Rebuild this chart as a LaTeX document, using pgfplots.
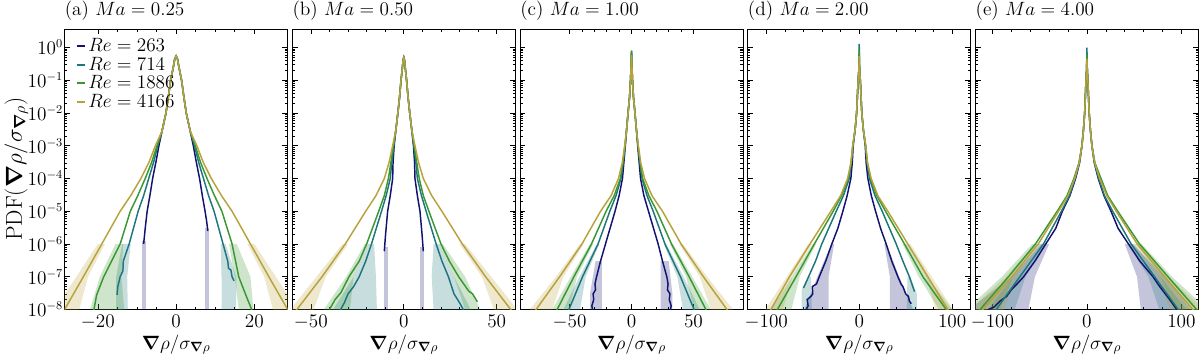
\documentclass[border=0pt]{standalone}
\usepackage{bm}
\usepackage{pgfplots}
\pgfplotsset{compat=1.18}
\usepgfplotslibrary{groupplots}

\definecolor{reA}{RGB}{18,18,112}
\definecolor{reB}{RGB}{30,118,124}
\definecolor{reC}{RGB}{58,152,50}
\definecolor{reD}{RGB}{184,162,60}

\pgfplotsset{
  pdfax/.style={
    scale only axis, width=167pt, height=210pt,
    ymode=log, ymin=1e-8, ymax=3.7,
    ytick={1e-8,1e-7,1e-6,1e-5,1e-4,1e-3,1e-2,1e-1,1},
    tick align=inside, major tick length=4pt, minor tick length=2pt,
    axis line style={line width=0.7pt},
    tick style={line width=0.5pt, black},
    tick label style={font=\fontsize{13.5}{15}\selectfont},
    xticklabel style={yshift=-1pt},
    yticklabel style={inner xsep=1pt},
    label style={font=\fontsize{14.5}{16}\selectfont},
    title style={at={(0,1)}, anchor=south west, inner sep=1pt, xshift=-1pt, yshift=-1pt,
                 font=\fontsize{14.5}{16}\selectfont},
    xlabel={$\bm{\nabla}\rho/\sigma_{\bm{\nabla}\rho}$},
    xlabel style={yshift=3pt},
  },
  band/.style={draw=none, fill=#1, fill opacity=0.25, forget plot},
  pdf/.style={draw=#1, line width=1.1pt, no markers},
}

\begin{document}
\begin{tikzpicture}
\begin{groupplot}[
  group style={group size=5 by 1, horizontal sep=3.5pt,
               yticklabels at=edge left, ylabels at=edge left},
  pdfax,
]

% ---------------- (a) Ma = 0.25
\nextgroupplot[title={(a) $Ma = 0.25$}, xmin=-28.5, xmax=28.5,
  xtick={-20,0,20}, minor x tick num=3,
  ylabel={$\mathrm{PDF}(\bm{\nabla}\rho/\sigma_{\bm{\nabla}\rho})$},
  ylabel style={font=\fontsize{18}{20}\selectfont, yshift=-5pt},
  legend style={at={(0.03,0.985)}, anchor=north west, draw=none, fill=none,
    font=\fontsize{14}{16}\selectfont, row sep=-1.5pt},
  legend cell align=left,
  legend image code/.code={\draw[#1, line width=1.6pt] (0pt,0pt) -- (6pt,0pt);}]
\addplot[band=reA] coordinates {(-8.6,1.2e-6)(-7.6,1.2e-6)(-7.6,1e-9)(-8.6,1e-9)};
\addplot[band=reA] coordinates {(7.5,3e-6)(8.5,3e-6)(8.5,1e-9)(7.5,1e-9)};
\addplot[band=reB] coordinates {(-13.8,1e-6)(-15.3,1e-7)(-15.3,1e-9)(-12.2,1e-9)(-12.5,1e-7)(-11.6,1e-6)};
\addplot[band=reB] coordinates {(11.4,1e-6)(11.6,1e-7)(11.6,1e-9)(15.3,1e-9)(15.4,1e-7)(12.6,1e-6)};
\addplot[band=reC] coordinates {(-15.5,1e-6)(-19.5,1e-7)(-22,1e-8)(-22,1e-9)(-12.5,1e-9)(-14,1e-7)(-13.5,1e-6)};
\addplot[band=reC] coordinates {(13.5,1e-6)(15,1e-7)(16,1e-8)(16,1e-9)(20.5,1e-9)(19,1e-7)(15.5,1e-6)};
\addplot[band=reD] coordinates {(-20,1e-6)(-25.5,1e-7)(-31,1e-8)(-31,1e-9)(-27,1e-9)(-22.5,1e-7)(-18.2,1e-6)};
\addplot[band=reD] coordinates {(20,1e-6)(25.5,1e-7)(31,1e-8)(31,1e-9)(27,1e-9)(22.5,1e-7)(18.2,1e-6)};
\addplot[pdf=reA] coordinates {(-8.3,1e-6)(-7.9,3e-6)(-7.4,1e-5)(-6.7,3e-5)(-6,1e-4)(-5.2,3e-4)(-4.4,1e-3)
  (-3.6,2.8e-3)(-2.6,1e-2)(-2,3e-2)(-1.4,0.1)(-0.7,0.26)(-0.35,0.45)(0,0.55)(0.35,0.45)(0.7,0.26)(1.4,0.1)(2,3e-2)(2.6,1e-2)(3.6,2.8e-3)
  (4.4,1e-3)(5.2,3e-4)(6,1e-4)(6.7,3e-5)(7.4,1e-5)(7.8,5e-6)(8.1,2.5e-6)};
\addlegendentry{$Re = 263$}
\addplot[pdf=reB] coordinates {(-15.1,2.8e-8)(-14.9,5e-8)(-14.3,1e-7)(-13.6,1.5e-7)(-13.5,3e-7)(-12,1e-6)(-9.7,1e-5)(-8.3,3e-5)(-7,1e-4)(-5.8,3e-4)(-4.7,1e-3)
  (-3.6,2.8e-3)(-2.6,1e-2)(-2,3e-2)(-1.4,0.1)(-0.7,0.26)(-0.35,0.45)(0,0.55)(0.35,0.45)(0.7,0.26)(1.4,0.1)(2,3e-2)(2.6,1e-2)(3.6,2.8e-3)
  (4.7,1e-3)(5.8,3e-4)(7,1e-4)(8.3,3e-5)(9.7,1e-5)(12,1e-6)(13.2,3e-7)(13.4,1.8e-7)(14,1.6e-7)(14.3,1e-7)(14.8,7.5e-8)};
\addlegendentry{$Re = 714$}
\addplot[pdf=reC] coordinates {(-21.5,5e-9)(-21,1e-8)(-20.3,2.8e-8)(-18.5,1e-7)(-16.5,3e-7)(-14.3,1e-6)(-11.7,1e-5)(-9.8,3e-5)(-7.9,1e-4)(-6.3,3e-4)(-4.9,1e-3)
  (-3.6,2.8e-3)(-2.6,1e-2)(-2,3e-2)(-1.4,0.1)(-0.7,0.26)(-0.35,0.45)(0,0.55)(0.35,0.45)(0.7,0.26)(1.4,0.1)(2,3e-2)(2.6,1e-2)(3.6,2.8e-3)
  (4.9,1e-3)(6.3,3e-4)(7.9,1e-4)(9.8,3e-5)(11.7,1e-5)(14.3,1e-6)(15.2,3e-7)(16,1e-7)(17.8,2.8e-8)(19.3,1e-8)(19.8,5e-9)};
\addlegendentry{$Re = 1886$}
\addplot[pdf=reD] coordinates {(-30,5e-9)(-28.5,1e-8)(-23.7,1e-7)(-19,1e-6)(-14.3,1e-5)(-11.6,3e-5)(-9,1e-4)(-7,3e-4)(-5.3,1e-3)
  (-3.6,2.8e-3)(-2.6,1e-2)(-2,3e-2)(-1.4,0.1)(-0.7,0.26)(-0.35,0.45)(0,0.55)(0.35,0.45)(0.7,0.26)(1.4,0.1)(2,3e-2)(2.6,1e-2)(3.6,2.8e-3)
  (5.3,1e-3)(7,3e-4)(9,1e-4)(11.6,3e-5)(14.3,1e-5)(19,1e-6)(23.7,1e-7)(28.5,1e-8)(30,5e-9)};
\addlegendentry{$Re = 4166$}

% ---------------- (b) Ma = 0.50
\nextgroupplot[title={(b) $Ma = 0.50$}, xmin=-60, xmax=60,
  xtick={-50,0,50}, minor x tick num=4]
\addplot[band=reA] coordinates {(-10.9,8e-7)(-8.6,8e-7)(-8.6,1e-9)(-10.9,1e-9)};
\addplot[band=reA] coordinates {(8.6,8e-7)(10.9,8e-7)(10.9,1e-9)(8.6,1e-9)};
\addplot[band=reB] coordinates {(-19,1e-6)(-27,1e-7)(-38,1e-8)(-38,1e-9)(-14,1e-9)(-15,1e-7)(-16,1e-6)};
\addplot[band=reB] coordinates {(16,1e-6)(15,1e-7)(17,1e-9)(36,1e-9)(36,1e-8)(27,1e-7)(19,1e-6)};
\addplot[band=reC] coordinates {(-21,1e-6)(-31,1e-7)(-43,1e-8)(-43,1e-9)(-31,1e-9)(-27,1e-7)(-19,1e-6)};
\addplot[band=reC] coordinates {(19,1e-6)(27,1e-7)(33,1e-8)(36,1e-9)(41,1e-9)(41,1e-8)(33,1e-7)(21,1e-6)};
\addplot[band=reD] coordinates {(-33,1e-6)(-47,1e-7)(-61,1e-8)(-61,1e-9)(-55,1e-9)(-42,1e-7)(-30,1e-6)};
\addplot[band=reD] coordinates {(33,1e-6)(47,1e-7)(61,1e-8)(61,1e-9)(55,1e-9)(42,1e-7)(30,1e-6)};
\addplot[pdf=reA] coordinates {(-10.5,6e-7)(-9.8,2e-6)(-8.7,1e-5)(-7.3,3e-5)(-6,1e-4)(-5.8,3e-4)(-5.2,1e-3)
  (-4.3,3e-3)(-3.2,1e-2)(-2.3,3e-2)(-1.5,0.1)(-0.75,0.25)(-0.35,0.42)(0,0.5)(0.35,0.42)(0.75,0.25)(1.5,0.1)(2.3,3e-2)(3.2,1e-2)(4.3,3e-3)
  (5.2,1e-3)(5.8,3e-4)(6,1e-4)(7.3,3e-5)(8.7,1e-5)(9.8,2e-6)(10.5,6e-7)};
\addplot[pdf=reB] coordinates {(-35,7e-9)(-34,1e-8)(-32,1.6e-8)(-30,3e-8)(-27,5e-8)(-24,1e-7)(-20.5,3e-7)(-17.4,1e-6)(-12,1e-5)(-9.5,3e-5)(-7.3,1e-4)(-6.5,3e-4)(-5.4,1e-3)
  (-4.3,3e-3)(-3.2,1e-2)(-2.3,3e-2)(-1.5,0.1)(-0.75,0.25)(-0.35,0.42)(0,0.5)(0.35,0.42)(0.75,0.25)(1.5,0.1)(2.3,3e-2)(3.2,1e-2)(4.3,3e-3)
  (5.4,1e-3)(6.5,3e-4)(7.3,1e-4)(9.5,3e-5)(12,1e-5)(17.4,1e-6)(20.5,3e-7)(24,1e-7)(27,3e-8)(30,1.6e-8)(32,1e-8)(33,7e-9)};
\addplot[pdf=reC] coordinates {(-40,1e-8)(-37,2e-8)(-33.8,3.3e-8)(-29.5,1e-7)(-24,3e-7)(-20,1e-6)(-13.5,1e-5)(-10.5,3e-5)(-8.3,1e-4)(-7,3e-4)(-5.6,1e-3)
  (-4.3,3e-3)(-3.2,1e-2)(-2.3,3e-2)(-1.5,0.1)(-0.75,0.25)(-0.35,0.42)(0,0.5)(0.35,0.42)(0.75,0.25)(1.5,0.1)(2.3,3e-2)(3.2,1e-2)(4.3,3e-3)
  (5.6,1e-3)(7,3e-4)(8.3,1e-4)(10.5,3e-5)(13.5,1e-5)(20,1e-6)(24.5,3e-7)(29.5,1e-7)(35,3.6e-8)(37,3e-8)(39.6,1.7e-8)};
\addplot[pdf=reD] coordinates {(-61,6e-9)(-57.5,1e-8)(-44,1e-7)(-31.5,1e-6)(-20.5,1e-5)(-15,3e-5)(-10.5,1e-4)(-8,3e-4)(-6,1e-3)
  (-4.3,3e-3)(-3.2,1e-2)(-2.3,3e-2)(-1.5,0.1)(-0.75,0.25)(-0.35,0.42)(0,0.5)(0.35,0.42)(0.75,0.25)(1.5,0.1)(2.3,3e-2)(3.2,1e-2)(4.3,3e-3)
  (6,1e-3)(8,3e-4)(10.5,1e-4)(15,3e-5)(20.5,1e-5)(31.5,1e-6)(44,1e-7)(57.5,1e-8)(61,6e-9)};

% ---------------- (c) Ma = 1.00
\nextgroupplot[title={(c) $Ma = 1.00$}, xmin=-90, xmax=90,
  xtick={-50,0,50}, minor x tick num=4]
\addplot[band=reA] coordinates {(-24,3e-7)(-29,3e-7)(-33.5,3e-8)(-33.5,1e-9)(-24,1e-9)};
\addplot[band=reA] coordinates {(23.5,3e-7)(30,3e-7)(33,3e-8)(33,1e-9)(23.5,1e-9)};
\addplot[band=reB] coordinates {(-28,1e-6)(-42,1e-7)(-55,1e-8)(-55,1e-9)(-46,1e-9)(-37,1e-7)(-26,1e-6)};
\addplot[band=reB] coordinates {(28,1e-6)(42,1e-7)(55,1e-8)(55,1e-9)(46,1e-9)(37,1e-7)(26,1e-6)};
\addplot[band=reC] coordinates {(-33.5,1e-6)(-49,1e-7)(-64,1e-8)(-64,1e-9)(-57,1e-9)(-44,1e-7)(-31,1e-6)};
\addplot[band=reC] coordinates {(33.5,1e-6)(49,1e-7)(64,1e-8)(64,1e-9)(57,1e-9)(44,1e-7)(31,1e-6)};
\addplot[band=reD] coordinates {(-41.5,1e-6)(-61,1e-7)(-82,1e-8)(-82,1e-9)(-73,1e-9)(-55,1e-7)(-38.5,1e-6)};
\addplot[band=reD] coordinates {(41.5,1e-6)(61,1e-7)(82,1e-8)(82,1e-9)(73,1e-9)(55,1e-7)(38.5,1e-6)};
\addplot[pdf=reA] coordinates {(-32.5,7e-9)(-31.5,1e-8)(-32,1.3e-8)(-30.5,2e-8)(-31,3e-8)(-29,4e-8)(-29.5,6e-8)(-28.2,1e-7)(-25,3e-7)(-21,1e-6)(-13.3,1e-5)(-10,3e-5)(-7.3,1e-4)(-6.2,3e-4)(-5,1e-3)
  (-4,3e-3)(-2.8,1e-2)(-1.6,3e-2)(-0.8,0.1)(-0.3,0.3)(0,0.65)(0.3,0.3)(0.8,0.1)(1.6,3e-2)(2.8,1e-2)(4,3e-3)
  (5,1e-3)(6.2,3e-4)(7.3,1e-4)(10,3e-5)(13.7,1e-5)(21.5,1e-6)(25,3e-7)(28.5,1e-7)(29.5,6e-8)(29,4e-8)(31,3e-8)(30.5,2e-8)(32,1.3e-8)(31.5,1e-8)(32.5,7e-9)};
\addplot[pdf=reB] coordinates {(-52,7e-9)(-50.5,1e-8)(-39.5,1e-7)(-27,1e-6)(-17.5,1e-5)(-12.5,3e-5)(-8.5,1e-4)(-6.8,3e-4)(-5.2,1e-3)
  (-4,3e-3)(-2.8,1e-2)(-1.6,3e-2)(-0.8,0.1)(-0.3,0.3)(0,0.8)(0.3,0.3)(0.8,0.1)(1.6,3e-2)(2.8,1e-2)(4,3e-3)
  (5.2,1e-3)(6.8,3e-4)(8.5,1e-4)(12.5,3e-5)(17.5,1e-5)(27,1e-6)(39.5,1e-7)(50.5,1e-8)(52,7e-9)};
\addplot[pdf=reC] coordinates {(-63,6e-9)(-60,1e-8)(-46.5,1e-7)(-32.3,1e-6)(-20.5,1e-5)(-14,3e-5)(-9,1e-4)(-7,3e-4)(-5.3,1e-3)
  (-4,3e-3)(-2.8,1e-2)(-1.6,3e-2)(-0.8,0.1)(-0.3,0.3)(0,0.8)(0.3,0.3)(0.8,0.1)(1.6,3e-2)(2.8,1e-2)(4,3e-3)
  (5.3,1e-3)(7,3e-4)(9,1e-4)(14,3e-5)(20.5,1e-5)(32.3,1e-6)(46.5,1e-7)(60,1e-8)(63,6e-9)};
\addplot[pdf=reD] coordinates {(-82,5e-9)(-77,1e-8)(-58,1e-7)(-40,1e-6)(-25,1e-5)(-16.5,3e-5)(-10.5,1e-4)(-7.5,3e-4)(-5.5,1e-3)
  (-4,3e-3)(-2.8,1e-2)(-1.6,3e-2)(-0.8,0.1)(-0.3,0.3)(0,0.6)(0.3,0.3)(0.8,0.1)(1.6,3e-2)(2.8,1e-2)(4,3e-3)
  (5.5,1e-3)(7.5,3e-4)(10.5,1e-4)(16.5,3e-5)(25,1e-5)(40,1e-6)(58,1e-7)(77,1e-8)(82,5e-9)};

% ---------------- (d) Ma = 2.00
\nextgroupplot[title={(d) $Ma = 2.00$}, xmin=-120, xmax=120,
  xtick={-100,0,100}, minor x tick num=4]
\addplot[band=reA] coordinates {(-30,1e-6)(-45,1e-7)(-59,1e-8)(-59,1e-9)(-33,1e-9)(-33,1e-7)(-27,1e-6)};
\addplot[band=reA] coordinates {(27,1e-6)(33,1e-7)(33,1e-9)(58,1e-9)(58,1e-8)(43,1e-7)(29.5,1e-6)};
\addplot[band=reB] coordinates {(-55,1e-7)(-62,4e-8)(-62,1e-9)(-50,1e-9)(-52,1e-7)};
\addplot[band=reB] coordinates {(52,1e-7)(50,1e-9)(62,1e-9)(62,3e-8)(55,1e-7)};
\addplot[band=reC] coordinates {(-50,1e-6)(-72,1e-7)(-95,1e-8)(-95,1e-9)(-82,1e-9)(-64,1e-7)(-46.5,1e-6)};
\addplot[band=reC] coordinates {(46.5,1e-6)(64,1e-7)(86,1e-8)(86,1e-9)(100,1e-9)(100,1e-8)(73,1e-7)(51,1e-6)};
\addplot[band=reD] coordinates {(-55,1e-6)(-78,1e-7)(-101,1e-8)(-101,1e-9)(-92,1e-9)(-72,1e-7)(-51,1e-6)};
\addplot[band=reD] coordinates {(55,1e-6)(78,1e-7)(101,1e-8)(101,1e-9)(92,1e-9)(72,1e-7)(51,1e-6)};
\addplot[pdf=reA] coordinates {(-57,1e-8)(-55,1.3e-8)(-56,2e-8)(-52,2.5e-8)(-50,3e-8)(-50.5,5e-8)(-46,6e-8)(-43,1e-7)(-36,3e-7)(-29.5,1e-6)(-23,3e-6)(-17.6,1e-5)(-13,3e-5)(-9,1e-4)(-7.5,3e-4)(-6.5,1e-3)
  (-4.5,3e-3)(-2.8,1e-2)(-2,3e-2)(-1.2,0.1)(-0.4,0.2)(0,0.6)(0.4,0.2)(1.2,0.1)(2,3e-2)(2.8,1e-2)(4.5,3e-3)
  (6.5,1e-3)(7.5,3e-4)(9.3,1e-4)(13,3e-5)(17.6,1e-5)(23,3e-6)(29,1e-6)(35,3e-7)(41.6,1e-7)(45,6e-8)(47,5e-8)(50,3e-8)(53,2.5e-8)(54,1.8e-8)(56,1.5e-8)};
\addplot[pdf=reB] coordinates {(-60,4.5e-8)(-54.5,1e-7)(-47,3e-7)(-40.3,1e-6)(-24.7,1e-5)(-17,3e-5)(-10.7,1e-4)(-8.5,3e-4)(-6.8,1e-3)
  (-4.5,3e-3)(-2.8,1e-2)(-2,3e-2)(-1.2,0.1)(-0.4,0.2)(0,1.3)(0.4,0.2)(1.2,0.1)(2,3e-2)(2.8,1e-2)(4.5,3e-3)
  (6.8,1e-3)(8.5,3e-4)(11,1e-4)(17,3e-5)(24.7,1e-5)(39.8,1e-6)(47,3e-7)(54,1e-7)(59.5,3.5e-8)};
\addplot[pdf=reC] coordinates {(-95,5e-9)(-88,1e-8)(-68,1e-7)(-48.3,1e-6)(-28,1e-5)(-19,3e-5)(-11.8,1e-4)(-8.7,3e-4)(-7,1e-3)
  (-4.5,3e-3)(-2.8,1e-2)(-2,3e-2)(-1.2,0.1)(-0.4,0.2)(0,0.85)(0.4,0.2)(1.2,0.1)(2,3e-2)(2.8,1e-2)(4.5,3e-3)
  (7,1e-3)(8.7,3e-4)(12.2,1e-4)(19,3e-5)(28.3,1e-5)(48.7,1e-6)(68.5,1e-7)(93.5,1e-8)(98,6e-9)};
\addplot[pdf=reD] coordinates {(-100,6e-9)(-95,1e-8)(-75,1e-7)(-53,1e-6)(-30.5,1e-5)(-20,3e-5)(-12.5,1e-4)(-9,3e-4)(-7,1e-3)
  (-4.5,3e-3)(-2.8,1e-2)(-2,3e-2)(-1.2,0.1)(-0.4,0.2)(0,0.55)(0.4,0.2)(1.2,0.1)(2,3e-2)(2.8,1e-2)(4.5,3e-3)
  (7,1e-3)(9,3e-4)(12.9,1e-4)(20,3e-5)(30.8,1e-5)(52.3,1e-6)(73.8,1e-7)(95.3,1e-8)(100,6e-9)};

% ---------------- (e) Ma = 4.00
\nextgroupplot[title={(e) $Ma = 4.00$}, xmin=-118, xmax=118,
  xtick={-100,0,100}, minor x tick num=4]
\addplot[band=reA] coordinates {(-48,1e-6)(-80,1e-7)(-121,1.2e-8)(-121,1e-9)(-63,1e-9)(-62,1e-8)(-55,1e-7)(-40,1e-6)};
\addplot[band=reA] coordinates {(40,1e-6)(53,1e-7)(57,1e-8)(57,1e-9)(110,1e-9)(110,1e-8)(82,1e-7)(48,1e-6)};
\addplot[band=reB] coordinates {(-50,1e-6)(-78,1e-7)(-105,1e-8)(-105,1e-9)(-88,1e-9)(-65,1e-7)(-43,1e-6)};
\addplot[band=reB] coordinates {(50,1e-6)(78,1e-7)(105,1e-8)(105,1e-9)(88,1e-9)(65,1e-7)(43,1e-6)};
\addplot[band=reC] coordinates {(-58,1e-6)(-90,1e-7)(-121,1.5e-8)(-121,1e-9)(-106,1e-9)(-78,1e-7)(-52,1e-6)};
\addplot[band=reC] coordinates {(58,1e-6)(90,1e-7)(121,1.5e-8)(121,1e-9)(106,1e-9)(78,1e-7)(52,1e-6)};
\addplot[band=reD] coordinates {(-55,1e-6)(-86,1e-7)(-121,1.2e-8)(-121,1e-9)(-102,1e-9)(-74,1e-7)(-49,1e-6)};
\addplot[band=reD] coordinates {(55,1e-6)(86,1e-7)(121,1.2e-8)(121,1e-9)(102,1e-9)(74,1e-7)(49,1e-6)};
\addplot[pdf=reA] coordinates {(-110,7e-9)(-104,1e-8)(-98,1.2e-8)(-92,1.8e-8)(-85,2.5e-8)(-80,4e-8)(-74,6e-8)(-67,1e-7)(-55,3e-7)(-43.6,1e-6)(-33,3e-6)(-26,1e-5)(-18,3e-5)(-12,1e-4)(-7.8,3e-4)
  (-5.3,1e-3)(-3.7,3e-3)(-2.4,1e-2)(-1.7,3e-2)(-1,0.1)(-0.4,0.2)(0,0.5)(0.4,0.2)(1,0.1)(1.7,3e-2)(2.4,1e-2)(3.7,3e-3)(5.3,1e-3)
  (7.8,3e-4)(12,1e-4)(18,3e-5)(25.5,1e-5)(33,3e-6)(44,1e-6)(56,3e-7)(69.9,1e-7)(77,5e-8)(85,2.5e-8)(90,1.6e-8)(95,1e-8)(97,7e-9)};
\addplot[pdf=reB] coordinates {(-100,7e-9)(-96,1e-8)(-71,1e-7)(-46,1e-6)(-27,1e-5)(-18.5,3e-5)(-12.5,1e-4)(-8,3e-4)
  (-5.3,1e-3)(-3.7,3e-3)(-2.4,1e-2)(-1.7,3e-2)(-1,0.1)(-0.4,0.2)(0,1.0)(0.4,0.2)(1,0.1)(1.7,3e-2)(2.4,1e-2)(3.7,3e-3)(5.3,1e-3)
  (8,3e-4)(12.5,1e-4)(18.5,3e-5)(27.3,1e-5)(46.8,1e-6)(71.6,1e-7)(96.5,1e-8)(100,7e-9)};
\addplot[pdf=reC] coordinates {(-121,7e-9)(-113,1e-8)(-83,1e-7)(-54.5,1e-6)(-31.5,1e-5)(-21,3e-5)(-13.8,1e-4)(-8.5,3e-4)
  (-5.3,1e-3)(-3.7,3e-3)(-2.4,1e-2)(-1.7,3e-2)(-1,0.1)(-0.4,0.2)(0,0.65)(0.4,0.2)(1,0.1)(1.7,3e-2)(2.4,1e-2)(3.7,3e-3)(5.3,1e-3)
  (8.5,3e-4)(14.9,1e-4)(22,3e-5)(32.6,1e-5)(55.7,1e-6)(85.8,1e-7)(116,1e-8)(121,8e-9)};
\addplot[pdf=reD] coordinates {(-121,6e-9)(-110,1e-8)(-79.5,1e-7)(-51.5,1e-6)(-30,1e-5)(-20,3e-5)(-13,1e-4)(-8.2,3e-4)
  (-5.3,1e-3)(-3.7,3e-3)(-2.4,1e-2)(-1.7,3e-2)(-1,0.1)(-0.4,0.2)(0,0.45)(0.4,0.2)(1,0.1)(1.7,3e-2)(2.4,1e-2)(3.7,3e-3)(5.3,1e-3)
  (8.2,3e-4)(13.5,1e-4)(21,3e-5)(31,1e-5)(53.2,1e-6)(82.3,1e-7)(112,1e-8)(121,7e-9)};
\end{groupplot}
\end{tikzpicture}
\end{document}
